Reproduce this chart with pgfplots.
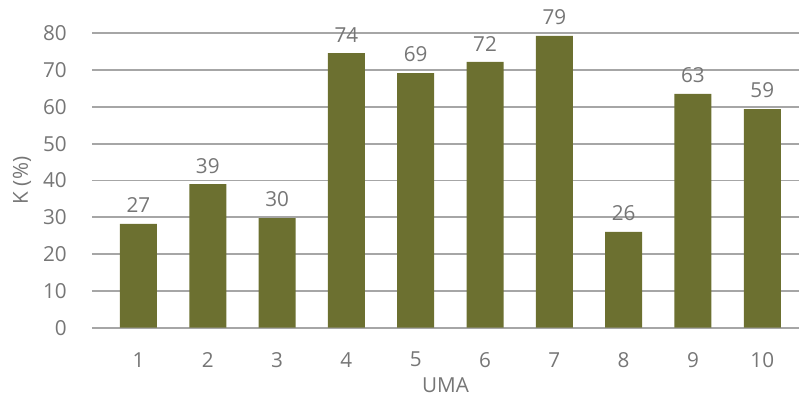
\documentclass[border=0pt]{standalone}
\usepackage{pgfplots}
\pgfplotsset{compat=1.18}
\usepackage{fontspec}
\setmainfont{Open Sans}
\definecolor{barc}{RGB}{108,112,48}
\definecolor{txt}{RGB}{118,118,118}
\definecolor{gridc}{RGB}{166,166,166}
\begin{document}
\begin{tikzpicture}
\path[use as bounding box] (0,0) rectangle (599.25pt,299.25pt);
\begin{axis}[
  at={(69pt,53.5pt)}, anchor=south west,
  scale only axis, width=530.25pt, height=220.8pt,
  xmin=0.33, xmax=10.53, ymin=0, ymax=80,
  ybar, bar width=27.75pt,
  axis line style={draw=none},
  major tick length=0pt,
  ymajorgrids, grid style={line width=1.4pt, color=gridc},
  ytick={0,10,...,80}, xtick={1,...,10},
  /pgf/number format/assume math mode=true,
  tick label style={font=\fontsize{15.5}{18}\selectfont, text=txt},
  yticklabel style={anchor=east, inner sep=0pt, xshift=-18.75pt},
  xticklabel style={anchor=center, inner sep=0pt, yshift=-24pt},
  xlabel={UMA}, ylabel={K (\%)},
  every axis x label/.style={at={(axis description cs:0.5,-0.195)}, anchor=center, font=\fontsize{15.5}{18}\selectfont, text=txt},
  every axis y label/.style={at={(axis description cs:-0.099,0.5)}, anchor=center, rotate=90, font=\fontsize{15.5}{18}\selectfont, text=txt},
  nodes near coords, point meta=explicit symbolic,
  every node near coord/.append style={font=\fontsize{15.5}{18}\selectfont, text=txt, inner sep=0pt, yshift=8pt},
  clip=false,
]
\addplot[fill=barc, draw=none] table[meta=lab] {
x y lab
1 28.2 27
2 39.0 39
3 29.8 30
4 74.6 74
5 69.2 69
6 72.2 72
7 79.3 79
8 26.0 26
9 63.5 63
10 59.4 59
};
\end{axis}
\end{tikzpicture}
\end{document}
